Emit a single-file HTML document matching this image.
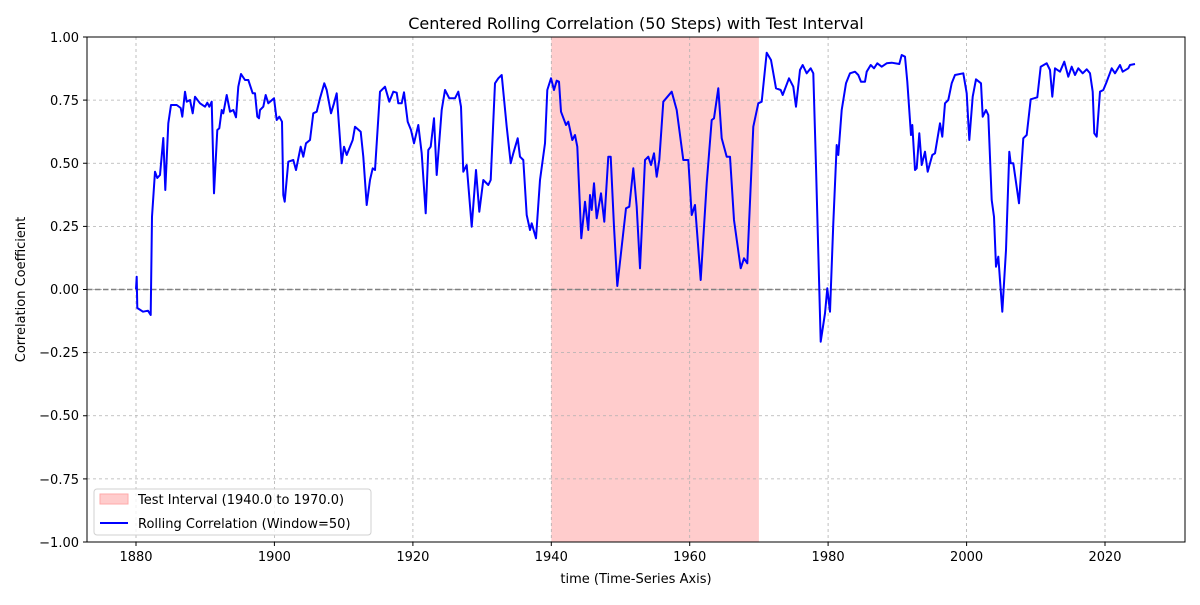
<!DOCTYPE html>
<html><head><meta charset="utf-8"><style>
html,body{margin:0;padding:0;background:#fff;}
svg text{font-family:"DejaVu Sans","Liberation Sans",sans-serif;fill:#000;}
</style></head><body>
<svg width="1200" height="600" viewBox="0 0 1200 600" xmlns="http://www.w3.org/2000/svg">
<rect width="1200" height="600" fill="#fff"/>
<rect x="551.3" y="37" width="207.6" height="505" fill="#ffcccc"/>
<g stroke="#b0b0b0" stroke-width="0.8" stroke-dasharray="3,3" fill="none">
<line x1="136" y1="37" x2="136" y2="542"/><line x1="274.4" y1="37" x2="274.4" y2="542"/>
<line x1="412.9" y1="37" x2="412.9" y2="542"/><line x1="551.3" y1="37" x2="551.3" y2="542"/>
<line x1="689.7" y1="37" x2="689.7" y2="542"/><line x1="828.1" y1="37" x2="828.1" y2="542"/>
<line x1="966.6" y1="37" x2="966.6" y2="542"/><line x1="1105" y1="37" x2="1105" y2="542"/>
<line x1="87" y1="100.1" x2="1185" y2="100.1"/><line x1="87" y1="163.25" x2="1185" y2="163.25"/>
<line x1="87" y1="226.4" x2="1185" y2="226.4"/><line x1="87" y1="289.5" x2="1185" y2="289.5"/>
<line x1="87" y1="352.6" x2="1185" y2="352.6"/><line x1="87" y1="415.75" x2="1185" y2="415.75"/>
<line x1="87" y1="478.9" x2="1185" y2="478.9"/>
</g>
<line x1="87" y1="289.5" x2="1185" y2="289.5" stroke="#808080" stroke-width="1.5" stroke-dasharray="5.5,2.5"/>
<polyline fill="none" stroke="#0000ff" stroke-width="2" stroke-linejoin="round" points="
136,289 136.7,276.7 137.3,308 143,311.7 148,310.7 150.7,315 152,216.7 155,171.7 157.3,178 160,175 163.3,138 165.3,190 168.3,123.3 171,105 176.7,105 180.7,108 182.3,116.7 185,91.7 186.7,101.7 190,100 192.7,113.3 195,96.7 200,103.3 205,106.7 207.3,102.7 209.3,106.7 211.7,101.7 214,193.3 217.3,130 219.3,128.3 221.7,110 223.3,113.3 226.7,95 230,111.7 233.3,110 236,117.3 238.3,86.7 241,74 245,80 248.3,80 252.7,93.3 255,93.3 257.3,116.7 259,118.3 260,110 263.3,106.7 265.7,95 268.3,103.3 274,98.3 276.7,120 279.3,116.7 282,121.7 283.3,195 284.7,201.7 288.3,161.7 293.3,160 296,170 300.7,146.7 303.3,156.7 306,143.3 310,140 313.3,113.3 316.7,111.7 320,98.3 324.3,83.3 326.7,90 331,113.3 334,103.3 336.7,93.3 341.7,163.3 344,146.7 346.7,155 352.7,140 355,126.7 360.7,131.7 363.3,156.7 366.7,205 370,180 372.7,168.3 375,170 380,91.7 385,86.7 389.3,101.7 393.3,91.7 396.7,92.7 398.3,103.3 401.7,103.3 404,92.3 407.7,121.7 411,130 414,143.3 418.3,125 421.7,153.3 425.7,213.3 428.3,150 430.7,146.7 434,118.3 436.7,175 441.7,110 445,90 449.3,98.3 455,98.3 458.3,91.7 461,106.7 463.3,171.7 466.7,165 471.7,226.7 476,170 479.3,211.7 483.3,180 488.3,185 490.7,180 495,83.3 498.3,78.3 501.7,75 506.7,126.7 510.7,163.3 513.3,153.3 517.7,138.3 520,156.7 523.3,160 526.7,215 530,230 531.7,223.3 536,238.3 540,180 545,143.3 547.3,90 551,78.3 554,90 556.7,80.7 559,81.7 561,111.7 566,125 568.3,121.7 572.3,140 575,135 577.3,146.7 581.3,238.3 585,201.7 588.3,230 590,195 591.7,210 594,183.3 596.7,218.3 601,193.3 604.3,221.7 608.3,156.7 610.7,156.7 614,226.7 617.3,286 621.7,246.7 626,208.3 629.3,206.7 633.3,168.3 636.7,206.7 640,268.3 645,160 648.3,156.7 651,165 654,153.3 656.7,176.7 659.3,160 663.3,101.7 671.7,91.7 676.7,110 683.3,160 688.3,160 691.7,215 695,205 700.7,280 706.7,183.3 711.7,120 714,118.3 718.3,88.3 721.7,138.3 726.7,156.7 730,156.7 734,220 740.7,268.3 744,258.3 747.3,263.3 753.3,126.7 758.3,103.3 761.7,101.7 766.7,52.7 771,60 776,88.3 780.7,90 782.7,95 789,78.3 793.3,86.7 796,106.7 800,70 802.7,65 806.7,73.3 810.7,68.3 813.3,73.3 816,166.7 820.7,341.7 825,313.3 827.3,288.3 830,311.7 833.3,223.3 836.7,145 838.3,155 841.7,110 846,83.3 850,73.3 855,71.7 858.3,75 861,81.7 865,81.7 866.7,71.7 870.7,65 874,68.3 877.3,63.3 881.7,66.7 886.7,63.3 891.7,62.7 899.3,64 901.7,55 905,56.7 907.3,81.7 911,135 912.3,125 915,170 916.7,168.3 919.3,133.3 921.7,165 925,151.7 927.7,171.7 932.3,155 935,153.3 940,123.3 942.3,136.7 945,103.3 948.3,100 951.7,83.3 955,75 963.3,73.3 966.7,93.3 969.3,140 972.7,96.7 976,79.3 981,83.3 982.7,116.7 986,110 988.3,115 991.7,200 994,216.7 996,266.7 998.3,256.7 1002.3,311.7 1006,250 1009.3,151.7 1010.7,163.3 1013.3,163.3 1019,203.3 1023.3,138.3 1026.7,135 1030.7,99.3 1037.3,97.3 1040.7,66.7 1046.7,63.3 1050,70 1052.3,96.7 1055,68.3 1060,71.7 1064.3,61.7 1068.3,76.7 1071.7,66.7 1075,75 1078.3,68.3 1082.7,73.3 1086.7,69.3 1090,73.3 1092.7,91.7 1094.3,133.3 1096.7,136.7 1100,91.7 1103.3,90 1106.7,81.7 1111.7,68.3 1115,73.3 1120,65 1122.7,71.7 1128.3,68.3 1130,65 1135,64"/>
<rect x="87" y="37" width="1098" height="505" fill="none" stroke="#000" stroke-width="1"/>
<g stroke="#000" stroke-width="1">
<line x1="136" y1="542" x2="136" y2="546"/><line x1="274.4" y1="542" x2="274.4" y2="546"/>
<line x1="412.9" y1="542" x2="412.9" y2="546"/><line x1="551.3" y1="542" x2="551.3" y2="546"/>
<line x1="689.7" y1="542" x2="689.7" y2="546"/><line x1="828.1" y1="542" x2="828.1" y2="546"/>
<line x1="966.6" y1="542" x2="966.6" y2="546"/><line x1="1105" y1="542" x2="1105" y2="546"/>
<line x1="83" y1="37" x2="87" y2="37"/><line x1="83" y1="100.1" x2="87" y2="100.1"/>
<line x1="83" y1="163.25" x2="87" y2="163.25"/><line x1="83" y1="226.4" x2="87" y2="226.4"/>
<line x1="83" y1="289.5" x2="87" y2="289.5"/><line x1="83" y1="352.6" x2="87" y2="352.6"/>
<line x1="83" y1="415.75" x2="87" y2="415.75"/><line x1="83" y1="478.9" x2="87" y2="478.9"/>
<line x1="83" y1="542" x2="87" y2="542"/>
</g>
<g font-size="13" text-anchor="middle">
<text x="136" y="561">1880</text><text x="274.4" y="561">1900</text><text x="412.9" y="561">1920</text>
<text x="551.3" y="561">1940</text><text x="689.7" y="561">1960</text><text x="828.1" y="561">1980</text>
<text x="966.6" y="561">2000</text><text x="1105" y="561">2020</text>
</g>
<g font-size="13" text-anchor="end">
<text x="79" y="42">1.00</text><text x="79" y="105">0.75</text><text x="79" y="168">0.50</text>
<text x="79" y="231">0.25</text><text x="79" y="294">0.00</text><text x="79" y="357">−0.25</text>
<text x="79" y="420">−0.50</text><text x="79" y="484">−0.75</text><text x="79" y="547">−1.00</text>
</g>
<text x="636" y="29" font-size="16" text-anchor="middle">Centered Rolling Correlation (50 Steps) with Test Interval</text>
<text x="636" y="583" font-size="13" text-anchor="middle">time (Time-Series Axis)</text>
<text transform="translate(25,289.5) rotate(-90)" font-size="13" text-anchor="middle">Correlation Coefficient</text>
<rect x="94" y="489" width="277" height="46" rx="3" fill="#fff" fill-opacity="0.8" stroke="#d0d0d0"/>
<rect x="100" y="494" width="28" height="10" fill="#ffcccc" stroke="#ffaaaa"/>
<text x="138" y="504" font-size="13">Test Interval (1940.0 to 1970.0)</text>
<line x1="100" y1="523" x2="128" y2="523" stroke="#0000ff" stroke-width="2"/>
<text x="138" y="528" font-size="13">Rolling Correlation (Window=50)</text>
</svg>
</body></html>
